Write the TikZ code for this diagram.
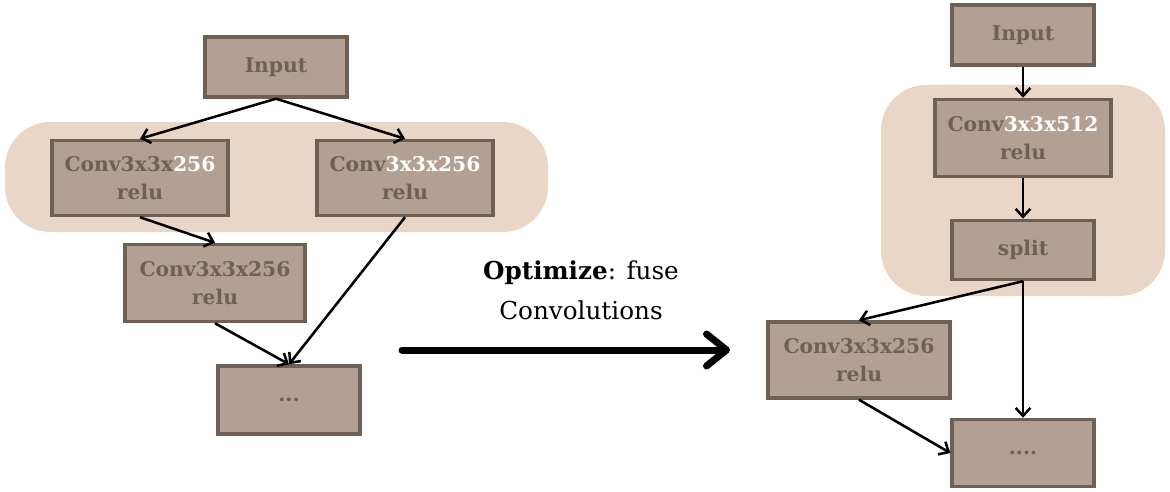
\documentclass[tikz,border=0pt]{standalone}
\usepackage{fontspec}
\setmainfont{DejaVu Serif}
\usetikzlibrary{arrows.meta}

\definecolor{boxfill}{HTML}{B3A093}
\definecolor{boxline}{HTML}{6E6055}
\definecolor{bandfill}{HTML}{E9D6C7}
\newcommand{\hlt}[1]{\textcolor{white}{#1}}

\begin{document}
\begin{tikzpicture}[x=0.75pt,y=-0.75pt,
  block/.style={draw=boxline, fill=boxfill, line width=2.6pt, text=boxline,
    font=\fontsize{15.2}{21.5}\selectfont\bfseries, align=center, inner sep=0pt},
  band/.style={fill=bandfill, rounded corners=34pt},
  link/.style={-{Straight Barb[length=6pt,width=11pt]}, line width=1.9pt}]

\useasboundingbox (0,0) rectangle (1170,492);

% Fused groups
\fill[band] (5,122) rectangle (548,232);
\fill[band] (881,85) rectangle (1165,296);

% Original graph
\node[block, minimum width=106.5pt, minimum height=45pt] (inL) at (276,67) {Input};
\node[block, minimum width=132pt, minimum height=56.25pt] (convA) at (140,178) {Conv3x3x\hlt{256}\\relu};
\node[block, minimum width=132pt, minimum height=56.25pt] (convB) at (405,178) {Conv\hlt{3x3x256}\\relu};
\node[block, minimum width=135pt, minimum height=57.75pt] (convC) at (215,283) {Conv3x3x256\\relu};
\node[block, minimum width=106.5pt, minimum height=51pt] (restL) at (289,400) {...};

\draw[link] (inL.south) -- (convA.north);
\draw[link] (inL.south) -- (convB.north);
\draw[link] (convA.south) -- (convC.north);
\draw[link] (convC.south) -- (restL.north);
\draw[link] (convB.south) -- (restL.north);

% Optimization step
\node[align=center, font=\fontsize{18.5}{30}\selectfont] (opt) at (581,290) {\textbf{Optimize}: fuse\\Convolutions};
\coordinate (optA) at (402,350);
\coordinate (optB) at (730,350);
\draw[-{Straight Barb[length=15pt,width=24pt,round]}, line width=5.25pt, line cap=round] (optA) -- (optB);

% Fused graph
\node[block, minimum width=106.5pt, minimum height=45pt] (inR) at (1023,35) {Input};
\node[block, minimum width=132pt, minimum height=57.75pt] (convF) at (1023,138) {Conv\hlt{3x3x512}\\relu};
\node[block, minimum width=106.5pt, minimum height=44.25pt] (split) at (1023,250) {split};
\node[block, minimum width=136.5pt, minimum height=57pt] (convD) at (859,360) {Conv3x3x256\\relu};
\node[block, minimum width=106.5pt, minimum height=50.25pt] (restR) at (1023,453) {....};

\draw[link] (inR) -- (convF);
\draw[link] (convF) -- (split);
\draw[link] (split.south) -- (convD.north);
\draw[link] (split.south) -- (restR.north);
\draw[link] (convD.south) -- (restR.west);

\end{tikzpicture}
\end{document}
